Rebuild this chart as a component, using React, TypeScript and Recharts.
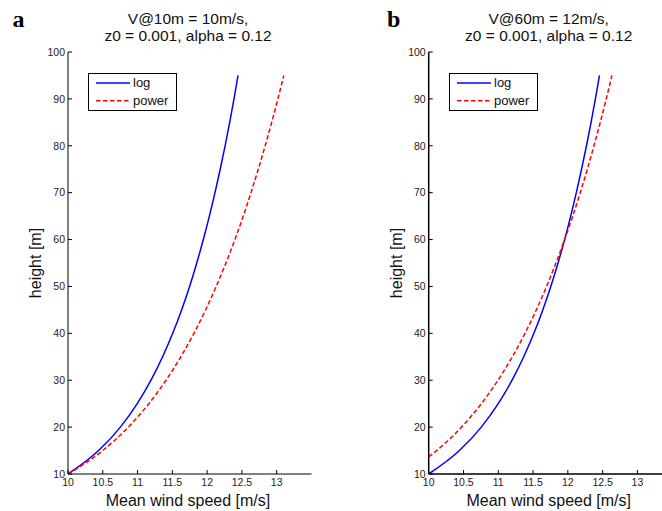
import React from "react";
import { LineChart, Line, XAxis, YAxis, Legend } from "recharts";

// heights [m] where the profiles were sampled
const heights = [10, 15, 20, 25, 30, 35, 40, 45, 50, 55, 60, 65, 70, 75, 80, 85, 90, 95];
const heightsPowerB = [13.64, 15, 20, 25, 30, 35, 40, 45, 50, 55, 60, 65, 70, 75, 80, 85, 90, 95];

// panel a: V@10m = 10 m/s
const logA = [10.0, 10.44, 10.753, 10.995, 11.193, 11.36, 11.505, 11.633, 11.748, 11.851, 11.945, 12.032, 12.113, 12.188, 12.258, 12.324, 12.386, 12.444];
const powerA = [10.0, 10.499, 10.867, 11.162, 11.409, 11.622, 11.81, 11.978, 12.13, 12.27, 12.399, 12.519, 12.63, 12.735, 12.834, 12.928, 13.017, 13.102];

// panel b: V@60m = 12 m/s
const logB = [10.0, 10.442, 10.756, 10.999, 11.198, 11.366, 11.512, 11.64, 11.755, 11.859, 11.954, 12.041, 12.122, 12.197, 12.268, 12.334, 12.396, 12.455];
const powerB = [10.0, 10.114, 10.472, 10.757, 10.996, 11.202, 11.384, 11.547, 11.694, 11.829, 11.954, 12.07, 12.178, 12.28, 12.375, 12.466, 12.552, 12.634];

const xTicks = [10, 10.5, 11, 11.5, 12, 12.5, 13];
const yTicks = [10, 20, 30, 40, 50, 60, 70, 80, 90, 100];

const SANS = "'Liberation Sans', Arial, sans-serif";
const PLOT_W = 243.5;
const PLOT_TOP = 52;
const PLOT_BOTTOM = 474;

const toPoints = (vs: number[], zs: number[]) => vs.map((v, i) => ({ v, z: zs[i] }));

function LegendBox(props: any) {
  const items = props.payload || [];
  return (
    <svg width={89} height={38} style={{ display: "block" }}>
      <rect x={0.5} y={0.5} width={88} height={37} fill="#fff" stroke="#000" strokeWidth={1} />
      {items.map((it: any, i: number) => {
        const y = 10 + i * 17.7;
        return (
          <g key={it.value}>
            <line
              x1={8}
              x2={42}
              y1={y}
              y2={y}
              stroke={it.color}
              strokeWidth={1.5}
              strokeDasharray={it.payload?.strokeDasharray}
            />
            <text x={45} y={y + 4} fontSize={13} fontFamily={SANS} fill="#111">
              {it.value}
            </text>
          </g>
        );
      })}
    </svg>
  );
}

type PanelProps = {
  letter: string;
  title: string;
  logData: { v: number; z: number }[];
  powerData: { v: number; z: number }[];
  axisWidth: number;
  width: number;
  axisStroke: number;
};

function Panel({ letter, title, logData, powerData, axisWidth, width, axisStroke }: PanelProps) {
  const left = axisWidth;
  const cx = left + 120;
  const cy = (PLOT_TOP + PLOT_BOTTOM) / 2;
  const rightMargin = width - axisWidth - PLOT_W;
  const tickStyle = { fontSize: 10.5, fill: "#222", fontFamily: SANS };
  const axisLine = { stroke: "#000", strokeWidth: axisStroke };
  return (
    <LineChart
      width={width}
      height={511}
      margin={{ top: PLOT_TOP, right: rightMargin, bottom: 0, left: 0 }}
      style={{ fontFamily: SANS }}
    >
      <XAxis
        xAxisId={0}
        dataKey="v"
        type="number"
        domain={[10, 13.5]}
        ticks={xTicks}
        allowDataOverflow
        height={511 - PLOT_BOTTOM}
        tickSize={-4}
        tickMargin={9}
        tick={tickStyle}
        axisLine={axisLine}
        tickLine={{ stroke: "#000" }}
      />
      <XAxis
        xAxisId="top"
        orientation="top"
        dataKey="v"
        type="number"
        domain={[10, 13.5]}
        ticks={xTicks}
        allowDataOverflow
        height={0}
        tickSize={-4}
        tick={false}
        axisLine={axisLine}
        tickLine={{ stroke: "#000" }}
      />
      <YAxis
        yAxisId={0}
        dataKey="z"
        type="number"
        domain={[10, 100]}
        ticks={yTicks}
        allowDataOverflow
        width={axisWidth}
        tickSize={-4}
        tickMargin={7}
        tick={tickStyle}
        axisLine={axisLine}
        tickLine={{ stroke: "#000" }}
      />
      <YAxis
        yAxisId="right"
        orientation="right"
        dataKey="z"
        type="number"
        domain={[10, 100]}
        ticks={yTicks}
        allowDataOverflow
        width={0}
        tickSize={-4}
        tick={false}
        axisLine={axisLine}
        tickLine={{ stroke: "#000" }}
      />
      <Legend
        layout="horizontal"
        verticalAlign="middle"
        align="center"
        wrapperStyle={{ left: left + 20.3, top: 72.5, width: 89, height: 38 }}
        content={LegendBox}
      />
      <Line
        name="log"
        data={logData}
        dataKey="z"
        type="monotone"
        stroke="#0000ff"
        strokeWidth={1.5}
        dot={false}
        isAnimationActive={false}
      />
      <Line
        name="power"
        data={powerData}
        dataKey="z"
        type="monotone"
        stroke="#ff0000"
        strokeWidth={1.5}
        strokeDasharray="4.5 2.5"
        dot={false}
        isAnimationActive={false}
      />
      <text x={letter === "a" ? 12.5 : 56} y={26.7} fontSize={24} fontWeight="bold" fontFamily="'Liberation Serif', 'Times New Roman', serif">
        {letter}
      </text>
      <text x={cx} y={23.5} textAnchor="middle" fontSize={15.5} fill="#111">
        {title}
      </text>
      <text x={cx} y={40.5} textAnchor="middle" fontSize={15.5} fill="#111">
        z0 = 0.001, alpha = 0.12
      </text>
      <text x={cx} y={506} textAnchor="middle" fontSize={16} fill="#111">
        Mean wind speed [m/s]
      </text>
      <text
        x={left - 27}
        y={cy}
        textAnchor="middle"
        fontSize={16}
        fill="#111"
        transform={`rotate(-90 ${left - 27} ${cy})`}
      >
        height [m]
      </text>
    </LineChart>
  );
}

export default function App() {
  return (
    <div
      style={{
        position: "absolute",
        left: 0,
        top: 0,
        width: 662,
        height: 511,
        overflow: "hidden",
        background: "#fff",
      }}
    >
      <div style={{ position: "absolute", left: 0, top: 0 }}>
        <Panel
          letter="a"
          title="V@10m = 10m/s,"
          logData={toPoints(logA, heights)}
          powerData={toPoints(powerA, heights)}
          axisWidth={68}
          width={331}
          axisStroke={1}
        />
      </div>
      <div style={{ position: "absolute", left: 331, top: 0 }}>
        <Panel
          letter="b"
          title="V@60m = 12m/s,"
          logData={toPoints(logB, heights)}
          powerData={toPoints(powerB, heightsPowerB)}
          axisWidth={97.7}
          width={350}
          axisStroke={1.5}
        />
      </div>
    </div>
  );
}
